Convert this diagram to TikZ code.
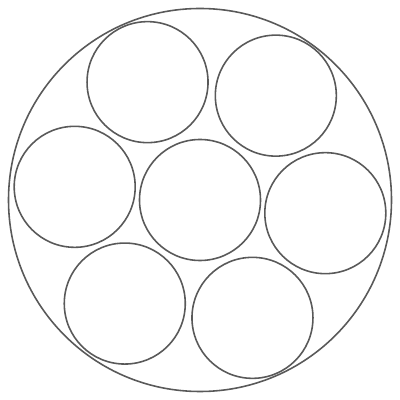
\documentclass[tikz,border=0pt]{standalone}
\begin{document}
\begin{tikzpicture}
            \useasboundingbox (0, 0) rectangle (8, 8);
            \draw[gray!70!black, line width=0.9pt] (4, 4) circle (3.83);
            \draw[gray!70!black, line width=0.9pt] (4, 4) circle (1.21);
            \foreach \a/\d in {-6/2.52, 54/2.58, 114/2.58, 174/2.52, 234/2.56, 294/2.58}
                \draw[gray!70!black, line width=0.9pt] (4, 4) ++(\a:\d) circle (1.21);
        \end{tikzpicture}
\end{document}
